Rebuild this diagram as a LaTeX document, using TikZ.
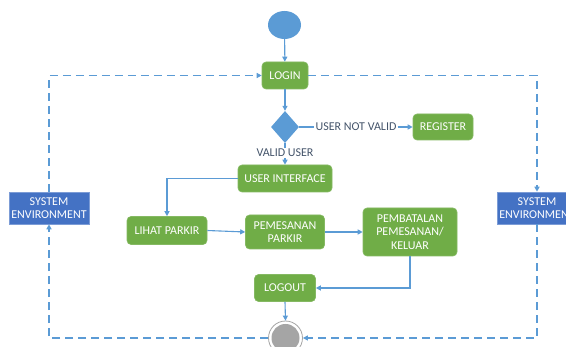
\documentclass[tikz,border=0pt]{standalone}
\usepackage{fontspec}
\setmainfont{Carlito}
\usetikzlibrary{shapes.geometric,arrows.meta}
\definecolor{grn}{HTML}{70AD47}
\definecolor{lblue}{HTML}{5B9BD5}
\definecolor{dblue}{HTML}{4472C4}
\definecolor{lbl}{HTML}{44546A}
\definecolor{fgray}{HTML}{A5A5A5}
\tikzset{
  act/.style={rectangle, rounded corners=4pt, fill=grn, draw=grn!85!white, line width=0.6pt,
    text=white, font=\fontsize{12}{13.5}\selectfont, align=center, inner sep=0pt},
  sysbox/.style={rectangle, fill=dblue, draw=dblue!70!white, line width=0.6pt, text=white,
    font=\fontsize{12}{13.5}\selectfont, align=center, inner sep=0pt, minimum width=80pt, minimum height=32pt},
  lab/.style={text=lbl, font=\fontsize{12}{13.5}\selectfont, inner sep=1pt},
  conn/.style={draw=lblue, line width=1.1pt, -{Triangle[length=5pt,width=5pt]}},
  plain/.style={draw=lblue, line width=1.1pt},
  dconn/.style={draw=lblue, line width=1.3pt, dash pattern=on 8pt off 5pt, -{Triangle[length=5pt,width=5pt]}},
}
\begin{document}
\begin{tikzpicture}[x=1pt,y=-1pt]
\useasboundingbox (0,0) rectangle (566,347);
% nodes
\node[ellipse, fill=lblue, minimum width=33pt, minimum height=28pt, inner sep=0pt] (start) at (284.5,25) {};
\node[act, minimum width=46pt, minimum height=27pt] (login) at (285,75.5) {LOGIN};
\node[diamond, fill=lblue, minimum width=28pt, minimum height=32pt, inner sep=0pt, aspect=0.875] (dec) at (285,127) {};
\node[act, minimum width=60pt, minimum height=26pt] (reg) at (443,127) {REGISTER};
\node[lab] (nv) at (356,127) {USER NOT VALID};
\node[lab] (valid) at (285,153) {VALID USER};
\node[act, minimum width=94pt, minimum height=27pt] (ui) at (285,178.5) {USER INTERFACE};
\node[act, minimum width=80pt, minimum height=28pt] (lihat) at (167,230.5) {LIHAT PARKIR};
\node[act, minimum width=79pt, minimum height=34pt] (pesan) at (285,232) {PEMESANAN\\PARKIR};
\node[act, minimum width=94pt, minimum height=48pt] (batal) at (410,232) {PEMBATALAN\\PEMESANAN/\\KELUAR};
\node[act, minimum width=61pt, minimum height=27pt] (logout) at (285,288) {LOGOUT};
\node[circle, draw=fgray, line width=0.8pt, fill=white, minimum size=34pt, inner sep=0pt] (final) at (285.5,338) {};
\fill[fgray] (final.center) circle (14pt);
\node[sysbox] (sysL) at (49,208) {SYSTEM\\ENVIRONMENT};
\node[sysbox] (sysR) at (537,208) {SYSTEM\\ENVIRONMENT};
% connectors
\draw[conn] (start) -- (login);
\draw[conn] (login) -- (dec);
\draw[plain] (dec.east) -- (nv.west);
\draw[conn] (nv.east) -- (reg.west);
\draw[plain] (dec.south) -- (valid.north);
\draw[conn] (valid.south) -- (ui.north);
\draw[conn] (ui.west) -| (lihat.north);
\draw[conn] (lihat.east) -- (pesan.west);
\draw[conn] (pesan.east) -- (batal.west);
\draw[conn] (batal.south) |- (logout.east);
\draw[conn] (logout.south) -- (final.north);
% dashed environment loop
\draw[dconn] (sysL.north) |- (login.west);
\draw[dconn] (login.east) -| (sysR.north);
\draw[dconn] (sysR.south) |- (final.east);
\draw[dconn] (final.west) -| (sysL.south);
\end{tikzpicture}
\end{document}
